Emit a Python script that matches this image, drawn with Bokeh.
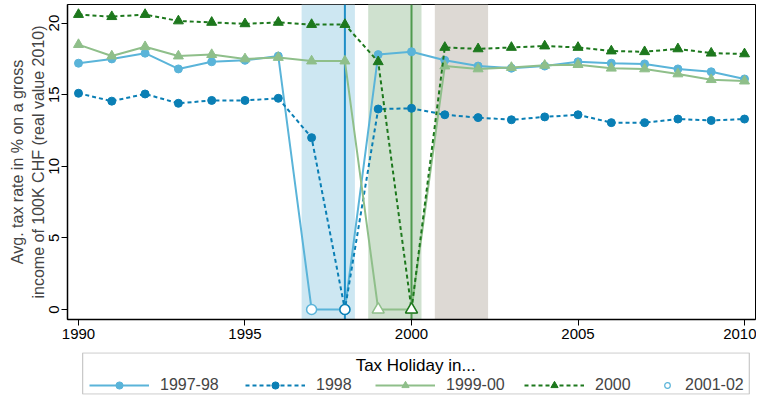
from bokeh.plotting import figure
from bokeh.models import FixedTicker, BoxAnnotation, Span, Legend, LegendItem
from bokeh.layouts import column
from bokeh.embed import file_html
from bokeh.resources import INLINE
from bokeh.core.properties import value

FONT = "Liberation Sans"

years = [1990, 1991, 1992, 1993, 1994, 1995, 1996, 1997, 1998, 1999, 2000,
         2001, 2002, 2003, 2004, 2005, 2006, 2007, 2008, 2009, 2010]

hol_9798 = [17.2, 17.5, 17.9, 16.8, 17.3, 17.4, 17.7, 0, 0, 17.8, 18.0,
            17.4, 17.0, 16.85, 17.0, 17.3, 17.2, 17.15, 16.8, 16.6, 16.1]
hol_98 = [15.1, 14.55, 15.05, 14.4, 14.6, 14.6, 14.75, 12.0, 0, 14.0, 14.05,
          13.6, 13.4, 13.25, 13.45, 13.6, 13.05, 13.05, 13.3, 13.2, 13.3]
hol_9900 = [18.5, 17.7, 18.35, 17.7, 17.8, 17.5, 17.6, 17.35, 17.35, 0, 0,
            17.0, 16.8, 16.9, 17.05, 17.1, 16.85, 16.8, 16.45, 16.05, 15.95]
hol_00 = [20.6, 20.45, 20.6, 20.15, 20.05, 19.95, 20.05, 19.9, 19.9, 17.3, 0,
          18.3, 18.2, 18.3, 18.4, 18.3, 18.05, 18.0, 18.2, 17.9, 17.85]
# 2001-02 has no plotted values, only a legend entry
hol_0102 = [float("nan")] * len(years)

# shaded holiday windows
shade_left = [1996.7, 1998.7, 2000.7]
shade_right = [1998.3, 2000.3, 2002.3]
shade_colors = ["#cde7f2", "#cfe1cf", "#ddd9d4"]

vline_years = [1998, 2000]
vline_colors = ["#1f8fc7", "#4f9a4f"]

x_ticks = [1990, 1995, 2000, 2005, 2010]
y_ticks = [0, 5, 10, 15, 20]

series = [
    ("1997-98", hol_9798, "#5ab4d9", "solid", "circle", 8),
    ("1998", hol_98, "#0a7fb5", "4 3", "circle", 8),
    ("1999-00", hol_9900, "#8fbf8a", "solid", "triangle", 10),
    ("2000", hol_00, "#1d781d", "4 3", "triangle", 10),
]

p = figure(width=756, height=351, output_backend="svg", toolbar_location=None,
           x_range=(1989.67, 2010.33), y_range=(-0.7, 21.3),
           min_border_left=67, min_border_right=1, min_border_top=4,
           min_border_bottom=32)
p.grid.visible = False
p.outline_line_color = "black"

for l, r, c in zip(shade_left, shade_right, shade_colors):
    p.add_layout(BoxAnnotation(left=l, right=r, fill_color=c, fill_alpha=1,
                               line_alpha=0, level="underlay"))
for yr, c in zip(vline_years, vline_colors):
    p.add_layout(Span(location=yr, dimension="height", line_color=c,
                      line_width=2, level="underlay"))

for name, vals, color, dash, marker, size in series:
    p.line(years, vals, line_color=color, line_width=2, line_dash=dash)
    full_x = [x for x, v in zip(years, vals) if v != 0]
    full_y = [v for v in vals if v != 0]
    zero_x = [x for x, v in zip(years, vals) if v == 0]
    zero_y = [v for v in vals if v == 0]
    p.scatter(full_x, full_y, marker=marker, size=size, fill_color=color,
              line_color=color)
    p.scatter(zero_x, zero_y, marker=marker, size=size + 2, fill_color="white",
              line_color=color, line_width=1.5)

for ax in (p.xaxis[0], p.yaxis[0]):
    ax.major_label_text_font = FONT
    ax.major_label_text_font_size = "15px"
    ax.major_label_text_color = "black"
    ax.major_label_standoff = 3
    ax.major_tick_in = 0
    ax.major_tick_out = 6
    ax.minor_tick_line_color = None
    ax.axis_line_width = 1.5
    ax.axis_line_color = "black"
    ax.major_tick_line_color = "black"

p.xaxis.ticker = FixedTicker(ticks=x_ticks)
p.yaxis.ticker = FixedTicker(ticks=y_ticks)
p.yaxis.major_label_orientation = "parallel"
p.yaxis.major_label_standoff = 2
p.yaxis.axis_label = "Avg. tax rate in % on a gross\nincome of 100K CHF (real value 2010)"
p.yaxis.axis_label_text_font = FONT
p.yaxis.axis_label_text_font_size = "16px"
p.yaxis.axis_label_text_font_style = "normal"
p.yaxis.axis_label_standoff = 0

# legend panel; column aligns its frame with the plot frame above
lg = figure(width=756, height=44, output_backend="svg", toolbar_location=None,
            x_range=(0, 1), y_range=(0, 1), min_border_left=0,
            min_border_right=0, min_border_top=1, min_border_bottom=1)
lg.axis.visible = False
lg.grid.visible = False
lg.outline_line_color = None
lg.add_layout(BoxAnnotation(left=0.022, right=0.991, bottom=0.01, top=0.99,
                            fill_alpha=0, line_color="#444444", line_width=1.2))
lg.text(x=[0.506], y=[0.69], text=["Tax Holiday in..."], text_align="center",
        text_baseline="middle", text_font=value(FONT), text_font_size="17px",
        text_color="black")

# series drawn off-range in the legend panel, only their legend glyphs show
entries = [(name, vals, color, dash, marker) for name, vals, color, dash, marker, _ in series]
item_x = [22, 178, 308, 457]
for (name, vals, color, dash, marker), x0 in zip(entries, item_x):
    rl = lg.line(years, vals, line_color=color, line_width=2, line_dash=dash)
    rs = lg.scatter(years, vals, marker=marker, fill_color=color, line_color=color)
    lg.add_layout(Legend(items=[LegendItem(label=name, renderers=[rl, rs])],
                         location=(x0, 0), border_line_alpha=0,
                         background_fill_alpha=0, glyph_width=60,
                         glyph_height=18, label_standoff=11, padding=0,
                         margin=0, label_text_font=FONT,
                         label_text_font_size="16px"), "center")
ro = lg.scatter(years, hol_0102, marker="circle", fill_color="white",
                line_color="#5ab4d9", line_width=1.2)
lg.add_layout(Legend(items=[LegendItem(label="2001-02", renderers=[ro])],
                     location=(593, 0), border_line_alpha=0,
                     background_fill_alpha=0, glyph_width=14, glyph_height=18,
                     label_standoff=11, padding=0, margin=0,
                     label_text_font=FONT, label_text_font_size="16px"),
              "center")

layout = column(p, lg)
open("out.html", "w").write(file_html(layout, INLINE))
